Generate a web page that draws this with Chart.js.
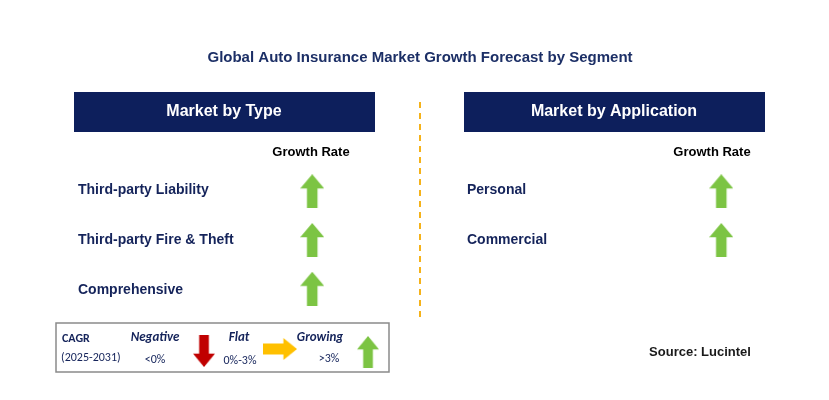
<!DOCTYPE html>
<html><head><meta charset="utf-8">
<script src="https://cdn.jsdelivr.net/npm/chart.js@4/dist/chart.umd.min.js"></script>
<style>html,body{margin:0;background:#fff}#wrap{width:829px;height:400px}</style>
</head><body><div id="wrap"><canvas id="c"></canvas></div>
<script>
// Données du graphique
const typeSegments = ['Third-party Liability', 'Third-party Fire & Theft', 'Comprehensive'];
const typeGrowth = ['Growing', 'Growing', 'Growing'];
const appSegments = ['Personal', 'Commercial'];
const appGrowth = ['Growing', 'Growing'];

const NAVY = '#0d1f5c';
const TEXT = '#14235a';

function arrowImage(dir, color) {
    const c = document.createElement('canvas');
    const w = dir === 'right' ? 36 : 24, h = dir === 'right' ? 24 : 34;
    c.width = w; c.height = h;
    const g = c.getContext('2d');
    g.fillStyle = color;
    g.beginPath();
    if (dir === 'up') {
        g.moveTo(w / 2, 0); g.lineTo(w, h * 0.42); g.lineTo(w * 0.72, h * 0.42);
        g.lineTo(w * 0.72, h); g.lineTo(w * 0.28, h); g.lineTo(w * 0.28, h * 0.42); g.lineTo(0, h * 0.42);
    } else if (dir === 'down') {
        g.moveTo(w / 2, h); g.lineTo(w, h * 0.58); g.lineTo(w * 0.72, h * 0.58);
        g.lineTo(w * 0.72, 0); g.lineTo(w * 0.28, 0); g.lineTo(w * 0.28, h * 0.58); g.lineTo(0, h * 0.58);
    } else {
        g.moveTo(w, h / 2); g.lineTo(w * 0.6, 0); g.lineTo(w * 0.6, h * 0.25);
        g.lineTo(0, h * 0.25); g.lineTo(0, h * 0.75); g.lineTo(w * 0.6, h * 0.75); g.lineTo(w * 0.6, h);
    }
    g.closePath(); g.fill();
    return c;
}
const styles = {
    Growing: arrowImage('up', '#7cc443'),
    Negative: arrowImage('down', '#c00000'),
    Flat: arrowImage('right', '#ffc000')
};

const rowY = i => 191 + i * 50;
const typePoints = typeGrowth.map((g, i) => ({ x: 311, y: rowY(i) }));
const appPoints = appGrowth.map((g, i) => ({ x: 725, y: rowY(i) }));

const layoutPlugin = {
    id: 'layout',
    beforeDatasetsDraw(chart) {
        const g = chart.ctx;
        g.save();
        g.textBaseline = 'middle';
        g.font = 'bold 15px Arial, "Liberation Sans"';
        g.fillStyle = '#1c2f66'; g.textAlign = 'center';
        g.fillText('Global Auto Insurance Market Growth Forecast by Segment', 420, 58);

        [[74, 'Market by Type'], [464, 'Market by Application']].forEach(([x, t]) => {
            g.fillStyle = NAVY; g.fillRect(x, 92, 301, 40);
            g.fillStyle = '#fff'; g.font = 'bold 16px Arial, "Liberation Sans"';
            g.fillText(t, x + 150, 112);
        });
        g.fillStyle = '#000'; g.font = 'bold 13px Arial, "Liberation Sans"';
        g.fillText('Growth Rate', 311, 152);
        g.fillText('Growth Rate', 712, 152);

        g.strokeStyle = '#f5b21a'; g.lineWidth = 2; g.setLineDash([6, 5]);
        g.beginPath(); g.moveTo(420, 102); g.lineTo(420, 320); g.stroke(); g.setLineDash([]);

        g.textAlign = 'left'; g.fillStyle = TEXT; g.font = 'bold 14px Arial, "Liberation Sans"';
        typeSegments.forEach((s, i) => g.fillText(s, 78, rowY(i) - 1));
        appSegments.forEach((s, i) => g.fillText(s, 467, rowY(i) - 1));

        // Légende
        g.strokeStyle = '#8a8a8a'; g.lineWidth = 1.5;
        g.strokeRect(56, 323, 333, 49);
        g.fillStyle = TEXT; g.font = 'bold 12px Calibri, Carlito, Arial';
        g.fillText('CAGR', 62, 339);
        g.font = '12px Calibri, Carlito, Arial';
        g.fillText('(2025-2031)', 61, 358);
        g.font = 'bold italic 13px Calibri, Carlito, Arial'; g.textAlign = 'center';
        g.fillText('Negative', 155, 338); g.fillText('Flat', 239, 338); g.fillText('Growing', 320, 338);
        g.font = '12px Calibri, Carlito, Arial';
        g.fillText('<0%', 155, 360); g.fillText('0%-3%', 240, 361); g.fillText('>3%', 329, 359);
        g.drawImage(styles.Negative, 193, 335, 22, 32);
        g.drawImage(styles.Flat, 263, 338, 34, 22);
        g.drawImage(styles.Growing, 357, 336, 22, 32);

        g.fillStyle = '#1a1a1a'; g.font = 'bold 13px Arial, "Liberation Sans"';
        g.fillText('Source: Lucintel', 700, 352);
        g.restore();
    }
};

new Chart(document.getElementById('c'), {
    type: 'scatter',
    data: {
        datasets: [
            { label: 'Type', data: typePoints, pointStyle: typeGrowth.map(g => styles[g]) },
            { label: 'Application', data: appPoints, pointStyle: appGrowth.map(g => styles[g]) }
        ]
    },
    options: {
        responsive: true, maintainAspectRatio: false, animation: false,
        layout: { padding: 0 },
        plugins: { legend: { display: false }, tooltip: { enabled: false } },
        scales: {
            x: { type: 'linear', min: 0, max: 829, display: false },
            y: { type: 'linear', min: 0, max: 400, reverse: true, display: false }
        }
    },
    plugins: [layoutPlugin]
});
</script></body></html>
